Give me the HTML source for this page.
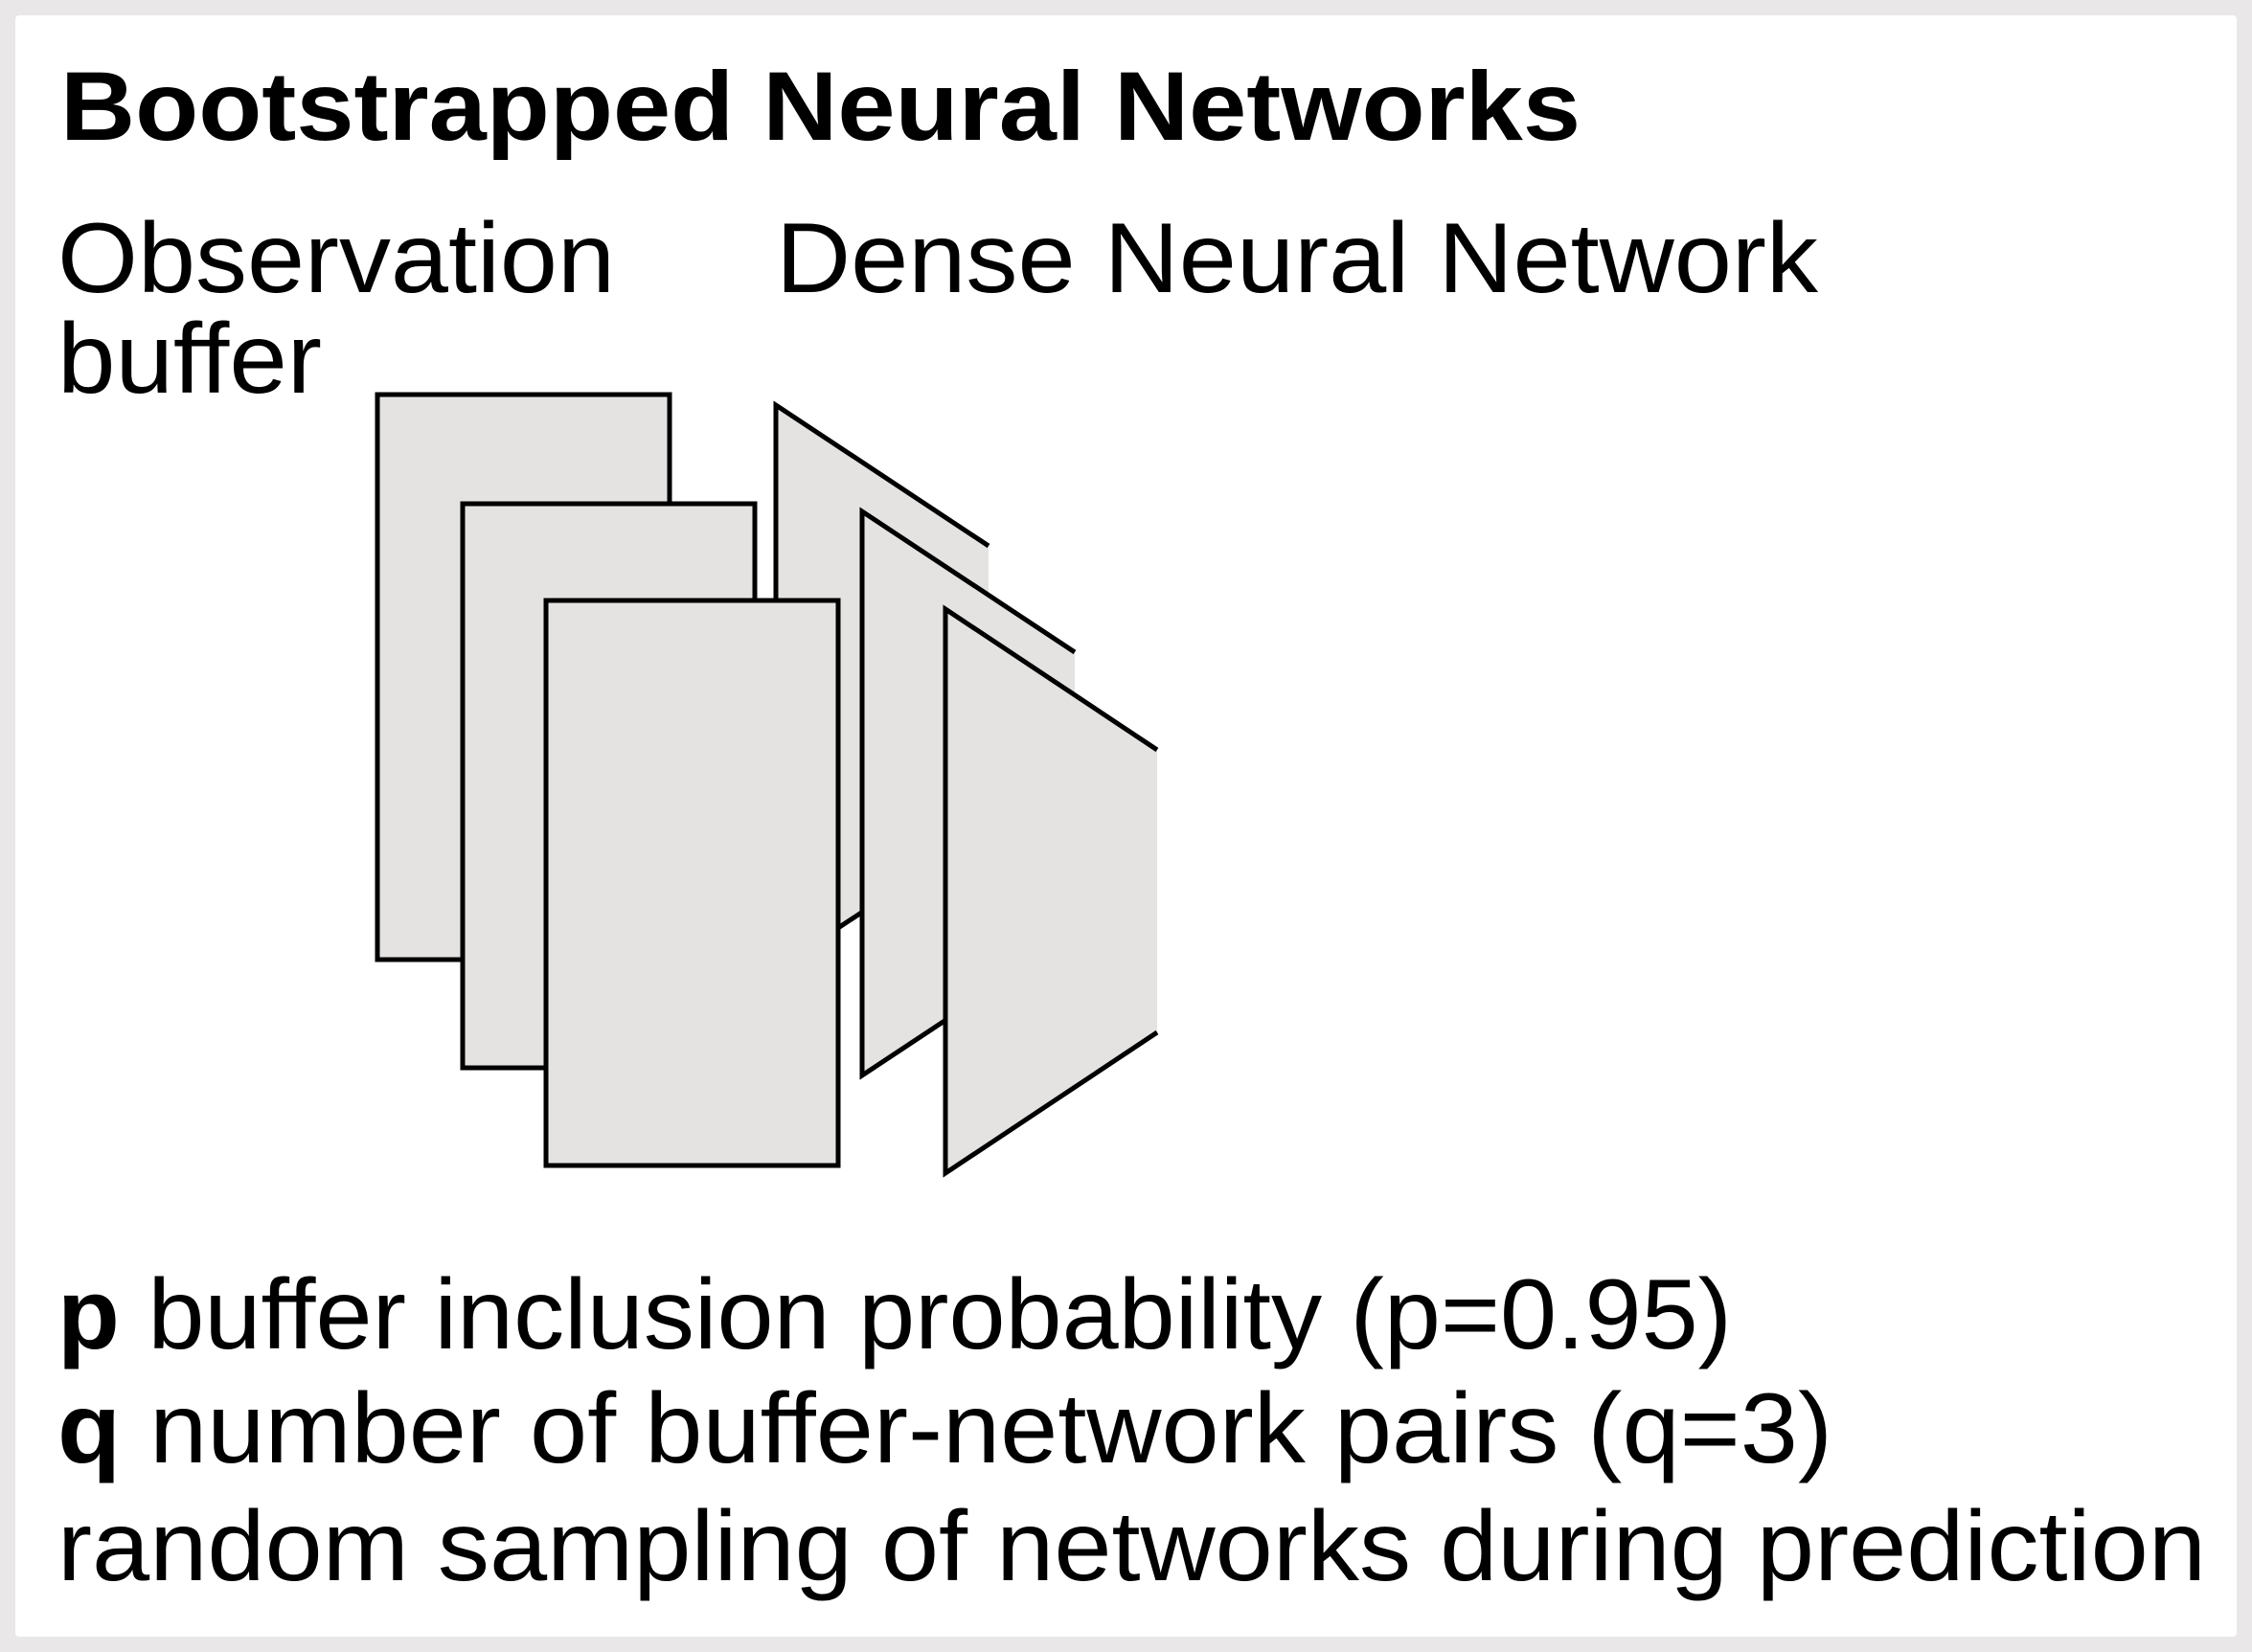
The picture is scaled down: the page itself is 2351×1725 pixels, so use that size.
<!DOCTYPE html>
<html><head><meta charset="utf-8"><style>
html,body{margin:0;padding:0;background:#fff;}
svg{display:block;}
text{font-family:"Liberation Sans",Arial,sans-serif;fill:#000;}
</style></head>
<body>
<svg width="2351" height="1725" viewBox="0 0 2351 1725" xmlns="http://www.w3.org/2000/svg">
<rect x="0" y="0" width="2351" height="1725" fill="#e9e7e7"/>
<rect x="16" y="16" width="2319" height="1693" rx="4" fill="#fff"/>
<text x="63" y="146" font-size="102" font-weight="bold" textLength="1587" lengthAdjust="spacingAndGlyphs">Bootstrapped Neural Networks</text>
<text x="60" y="305" font-size="104" textLength="582" lengthAdjust="spacingAndGlyphs">Observation</text>
<text x="60" y="410" font-size="104" textLength="276" lengthAdjust="spacingAndGlyphs">buffer</text>
<text x="810" y="305" font-size="104" textLength="1088" lengthAdjust="spacingAndGlyphs">Dense Neural Network</text>
<g stroke="#000" stroke-width="5" fill="#e4e3e2">
<rect x="394" y="412" width="305" height="590"/>
<g><polygon points="810,423 1032,570 1032,865 810,1012" stroke="none"/><polyline points="1032,570 810,423 810,1012 1032,865" fill="none"/></g>
<rect x="483" y="526" width="305" height="589"/>
<g><polygon points="900,534 1122,681 1122,976 900,1123" stroke="none"/><polyline points="1122,681 900,534 900,1123 1122,976" fill="none"/></g>
<rect x="570" y="627" width="305" height="590"/>
<g><polygon points="987,636 1208,783 1208,1078 987,1225" stroke="none"/><polyline points="1208,783 987,636 987,1225 1208,1078" fill="none"/></g>
</g>
<text x="60" y="1408" font-size="104" textLength="1748" lengthAdjust="spacingAndGlyphs"><tspan font-weight="bold">p</tspan> buffer inclusion probability (p=0.95)</text>
<text x="60" y="1527" font-size="104" textLength="1853" lengthAdjust="spacingAndGlyphs"><tspan font-weight="bold">q</tspan> number of buffer-network pairs (q=3)</text>
<text x="60" y="1650" font-size="104" textLength="2243" lengthAdjust="spacingAndGlyphs">random sampling of networks during prediction</text>
</svg>
</body></html>
